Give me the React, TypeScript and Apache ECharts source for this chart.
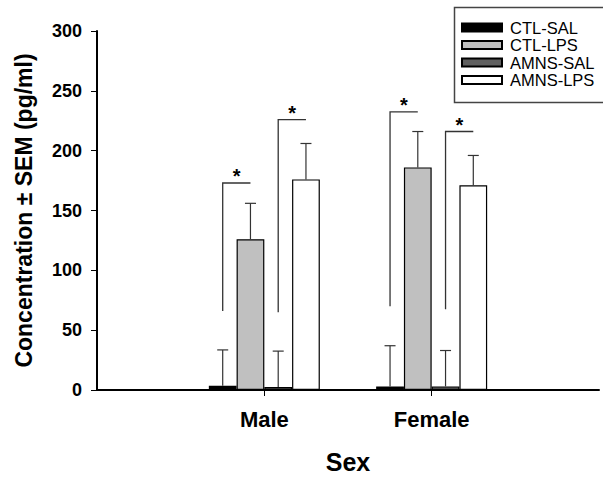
import React, { useEffect, useRef } from "react";
import * as echarts from "echarts";

const categories = ["", "Male", "Female", ""];
const seriesNames = ["CTL-SAL", "CTL-LPS", "AMNS-SAL", "AMNS-LPS"];
const seriesColors = ["#000000", "#c0c0c0", "#606060", "#ffffff"];

// values for Male, Female
const ctlSalMean = [3.5, 3];
const ctlSalSem = [30, 34];
const ctlLpsMean = [126, 186];
const ctlLpsSem = [30, 30];
const amnsSalMean = [2.5, 3];
const amnsSalSem = [30, 30];
const amnsLpsMean = [176, 171];
const amnsLpsSem = [30, 25];

// significance brackets
const bracketCat = [1, 1, 2, 2];
const bracketFrom = [0, 2, 0, 2];
const bracketTo = [1, 3, 1, 3];
const bracketLow = [66, 65, 70, 67.5];
const bracketHigh = [173, 226, 232.5, 216];

const yTicks = { min: 0, max: 300, interval: 50 };

const FONT = "'Liberation Sans', Arial, Helvetica, sans-serif";
const BW = 27.75;

export default function App() {
  const ref = useRef<HTMLDivElement>(null);
  useEffect(() => {
    if (!ref.current) return;
    const chart = echarts.init(ref.current, undefined, { renderer: "svg" });
    const means = [ctlSalMean, ctlLpsMean, amnsSalMean, amnsLpsMean];
    const sems = [ctlSalSem, ctlLpsSem, amnsSalSem, amnsLpsSem];

    const barSeries = seriesNames.map((name, i) => ({
      name,
      type: "bar",
      barWidth: BW,
      barGap: "0%",
      data: ["-", ...means[i], "-"],
      itemStyle: { color: seriesColors[i], borderColor: "#000", borderWidth: 1.2 },
      z: 2,
    }));

    const errSeries = seriesNames.map((name, i) => ({
      type: "custom",
      name: name + "-err",
      data: means[i].map((m, k) => [k + 1, m, sems[i][k]]),
      z: 3,
      renderItem: (params: any, api: any) => {
        const base = api.coord([api.value(0), api.value(1)]);
        const top = api.coord([api.value(0), api.value(1) + api.value(2)]);
        const x = base[0] + (i - 1.5) * BW;
        const st = { stroke: "#333", lineWidth: 1.2 };
        return {
          type: "group",
          children: [
            { type: "line", shape: { x1: x, y1: base[1], x2: x, y2: top[1] }, style: st },
            { type: "line", shape: { x1: x - 5.5, y1: top[1], x2: x + 5.5, y2: top[1] }, style: st },
          ],
        };
      },
    }));

    const bracketSeries = {
      type: "custom",
      name: "brackets",
      z: 4,
      data: bracketCat.map((c, k) => [c, bracketLow[k], bracketHigh[k], bracketFrom[k], bracketTo[k]]),
      renderItem: (params: any, api: any) => {
        const low = api.coord([api.value(0), api.value(1)]);
        const high = api.coord([api.value(0), api.value(2)]);
        const x1 = low[0] + (api.value(3) - 1.5) * BW;
        const x2 = low[0] + (api.value(4) - 1.5) * BW;
        return {
          type: "group",
          children: [
            {
              type: "polyline",
              shape: { points: [[x1, low[1]], [x1, high[1]], [x2, high[1]]] },
              style: { stroke: "#333", lineWidth: 1.3, fill: "none" },
            },
            {
              type: "text",
              x: (x1 + x2) / 2,
              y: high[1] - 7,
              style: {
                text: "*",
                fontSize: 20,
                fontWeight: "bold",
                fontFamily: FONT,
                fill: "#000",
                align: "center",
                verticalAlign: "middle",
              },
            },
          ],
        };
      },
    };

    chart.setOption({
      animation: false,
      backgroundColor: "#fff",
      grid: { left: 97, right: 4, top: 31, bottom: 88, containLabel: false },
      legend: {
        data: seriesNames,
        orient: "vertical",
        left: 461,
        top: 19,
        padding: 0,
        icon: "rect",
        itemWidth: 40,
        itemHeight: 8,
        itemGap: 0.5,
        textStyle: { fontSize: 16.5, fontFamily: FONT, color: "#000", lineHeight: 16, padding: [0, 0, 0, 3] },
      },
      graphic: [
        {
          type: "rect",
          left: 452,
          top: 5,
          shape: { width: 170, height: 95 },
          style: { fill: "none", stroke: "#444", lineWidth: 1.5 },
          z: 10,
        },
      ],
      xAxis: {
        type: "category",
        data: categories,
        boundaryGap: false,
        name: "Sex",
        nameLocation: "middle",
        nameGap: 59,
        nameTextStyle: { fontSize: 25, fontWeight: "bold", fontFamily: FONT, color: "#000" },
        axisLine: { lineStyle: { color: "#000", width: 2 } },
        axisTick: {
          interval: (idx: number) => idx === 1 || idx === 2,
          length: 6,
          lineStyle: { color: "#000", width: 1 },
        },
        axisLabel: {
          interval: 0,
          margin: 18,
          fontSize: 22,
          fontWeight: "bold",
          fontFamily: FONT,
          color: "#000",
        },
        splitLine: { show: false },
      },
      yAxis: {
        type: "value",
        min: yTicks.min,
        max: yTicks.max,
        interval: yTicks.interval,
        name: "Concentration ± SEM (pg/ml)",
        nameLocation: "middle",
        nameGap: 62,
        nameTextStyle: { fontSize: 23, fontWeight: "bold", fontFamily: FONT, color: "#000" },
        axisLine: { show: true, lineStyle: { color: "#000", width: 2 } },
        axisTick: { show: true, length: 6, lineStyle: { color: "#000", width: 1 } },
        axisLabel: { margin: 15, fontSize: 18, fontWeight: "bold", fontFamily: FONT, color: "#000" },
        splitLine: { show: false },
      },
      series: [...barSeries, ...errSeries, bracketSeries],
    });
    return () => chart.dispose();
  }, []);
  return (
    <div
      ref={ref}
      style={{ position: "fixed", left: 0, top: 0, width: 603, height: 479, background: "#fff" }}
    />
  );
}
